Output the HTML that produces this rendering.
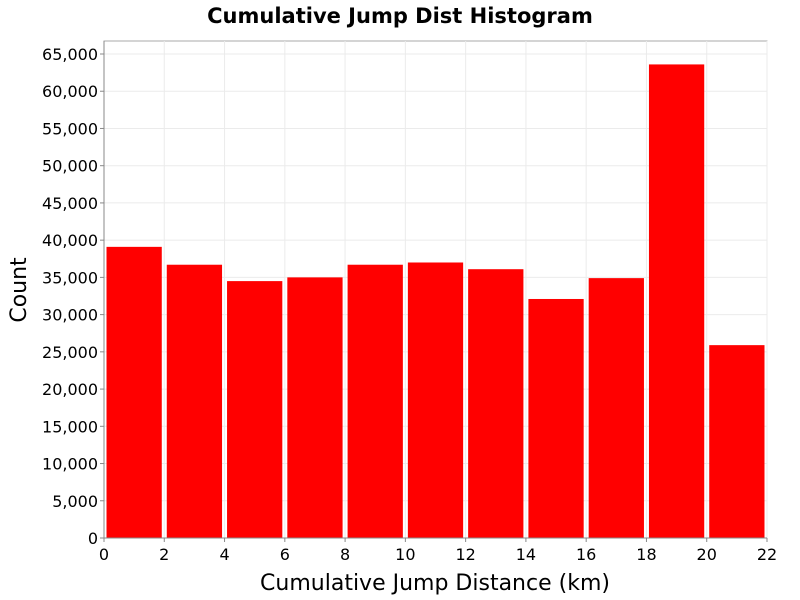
<!DOCTYPE html>
<html><head><meta charset="utf-8"><style>body{margin:0;background:#fff}svg{display:block}text{font-family:"DejaVu Sans","Liberation Sans",sans-serif}</style></head>
<body>
<svg id="c" width="800" height="600"></svg>
<script>
const binStarts=[0,2,4,6,8,10,12,14,16,18,20];
const binWidth=2;
const counts=[39100,36700,34500,35000,36700,37000,36100,32100,34900,63600,25900];
const xTicks=[0,2,4,6,8,10,12,14,16,18,20,22];
const yTicks=[0,5000,10000,15000,20000,25000,30000,35000,40000,45000,50000,55000,60000,65000];
const L=104,R=767,T=41,B=538;
const xs=v=>L+v/22*(R-L);
const ys=v=>B-v/65000*(B-54);
const svg=document.getElementById('c');
const NS='http://www.w3.org/2000/svg';
function el(t,a,txt){const e=document.createElementNS(NS,t);for(const k in a)e.setAttribute(k,a[k]);if(txt!==undefined)e.textContent=txt;svg.appendChild(e);return e;}
let e=el('rect',{x:L,y:T,width:R-L,height:B-T,fill:'#fff',stroke:'#aaa'});

yTicks.forEach(v=>{const g=el('line',{x1:L,x2:R,y1:ys(v),y2:ys(v),stroke:'#ebebeb'});
const t=el('text',{x:L-6,y:ys(v)+6,'text-anchor':'end','font-size':16},v.toLocaleString('en-US'));
const k=el('line',{x1:L-4,x2:L,y1:ys(v),y2:ys(v),stroke:'#888'});});
xTicks.forEach(v=>{const g=el('line',{x1:xs(v),x2:xs(v),y1:T,y2:B,stroke:'#ebebeb'});
const t=el('text',{x:xs(v),y:B+22,'text-anchor':'middle','font-size':16},String(v));
const k=el('line',{x1:xs(v),x2:xs(v),y1:B,y2:B+4,stroke:'#888'});});
counts.forEach((c,i)=>{const x0=xs(binStarts[i])+2.5,x1=xs(binStarts[i]+binWidth)-2.5;
const b=el('rect',{x:x0,y:ys(c),width:x1-x0,height:B-ys(c),fill:'#ff0000'});});
e=el('line',{x1:L,x2:R,y1:B,y2:B,stroke:'#888'});
e=el('line',{x1:L,x2:L,y1:T,y2:B,stroke:'#888'});
e=el('text',{x:400,y:23,'text-anchor':'middle','font-size':21,'font-weight':'bold'},'Cumulative Jump Dist Histogram');
e=el('text',{x:435,y:590,'text-anchor':'middle','font-size':22},'Cumulative Jump Distance (km)');
e=el('text',{x:0,y:0,'text-anchor':'middle','font-size':22,transform:'translate(26,290) rotate(-90)'},'Count');
</script>
</body></html>
